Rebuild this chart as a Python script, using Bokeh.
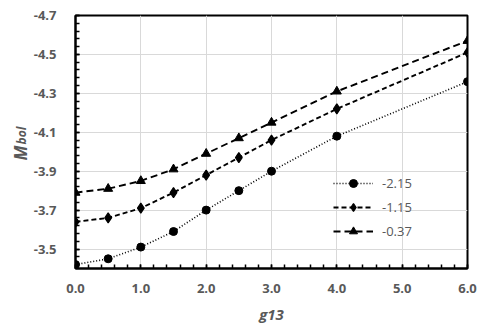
import numpy as np
from bokeh.plotting import figure
from bokeh.models import Range1d, FixedTicker, PrintfTickFormatter, Label, Legend
from bokeh.embed import file_html
from bokeh.resources import INLINE

# ---- data ----
g13 = [0, 0.5, 1.0, 1.5, 2.0, 2.5, 3.0, 4.0, 6.0]
mbol_m215 = [-3.42, -3.45, -3.51, -3.59, -3.70, -3.80, -3.90, -4.08, -4.36]
mbol_m115 = [-3.64, -3.66, -3.71, -3.79, -3.88, -3.97, -4.06, -4.22, -4.51]
mbol_m037 = [-3.79, -3.81, -3.85, -3.91, -3.99, -4.07, -4.15, -4.31, -4.57]
series_names = ["-2.15", "-1.15", "-0.37"]
x_ticks = [0, 1, 2, 3, 4, 5, 6]
y_ticks = [-3.5, -3.7, -3.9, -4.1, -4.3, -4.5, -4.7]

GRAY = "#595959"
FONT = "Open Sans"

p = figure(width=490, height=330, output_backend="svg", toolbar_location=None,
           x_range=Range1d(0, 6), y_range=Range1d(-3.4, -4.7))
p.min_border_left = 75
p.min_border_top = 15
p.min_border_right = 23
p.min_border_bottom = 62
p.outline_line_color = "black"
p.outline_line_width = 2

x_minor = list(np.round(np.arange(0, 6.0001, 0.2), 3))
y_minor = list(np.round(np.arange(-4.7, -3.3999, 0.04), 3))
p.xaxis.ticker = FixedTicker(ticks=x_ticks, minor_ticks=x_minor)
p.yaxis.ticker = FixedTicker(ticks=y_ticks, minor_ticks=y_minor)
p.xaxis.formatter = PrintfTickFormatter(format="%.1f")
p.yaxis.formatter = PrintfTickFormatter(format="%.1f")

for ax in (p.xaxis, p.yaxis):
    ax.axis_line_color = "black"
    ax.axis_line_width = 2
    ax.major_tick_in = 4
    ax.major_tick_out = 0
    ax.minor_tick_in = 4
    ax.minor_tick_out = 0
    ax.major_tick_line_color = "black"
    ax.minor_tick_line_color = "black"
    ax.major_tick_line_width = 1.5
    ax.minor_tick_line_width = 1.5
    ax.major_label_text_font = FONT
    ax.major_label_text_font_style = "bold"
    ax.major_label_text_font_size = "13px"
    ax.major_label_text_color = GRAY

p.yaxis.major_label_standoff = 19
p.xaxis.major_label_standoff = 15
p.xaxis.axis_label = "g13"
p.xaxis.axis_label_text_font = FONT
p.xaxis.axis_label_text_font_style = "bold italic"
p.xaxis.axis_label_text_font_size = "15px"
p.xaxis.axis_label_text_color = GRAY
p.xaxis.axis_label_standoff = 8

p.xgrid.ticker = FixedTicker(ticks=x_ticks)
p.ygrid.ticker = FixedTicker(ticks=y_ticks)
p.grid.grid_line_color = "#d9d9d9"
p.grid.grid_line_width = 1

r1l = p.line(g13, mbol_m215, line_color="black", line_width=1.6, line_dash="1 2")
r1s = p.scatter(g13, mbol_m215, marker="circle", size=8, fill_color="black", line_color="black")
r2l = p.line(g13, mbol_m115, line_color="black", line_width=1.9, line_dash="5 3")
r2s = p.scatter(g13, mbol_m115, marker="diamond", size=10, line_width=1.2,
                fill_color="black", line_color="black")
r3l = p.line(g13, mbol_m037, line_color="black", line_width=1.9, line_dash="7 4")
r3s = p.scatter(g13, mbol_m037, marker="triangle", size=9, fill_color="black", line_color="black")

legend = Legend(items=[(series_names[0], [r1l, r1s]),
                       (series_names[1], [r2l, r2s]),
                       (series_names[2], [r3l, r3s])],
                location=(258, 27))
legend.background_fill_alpha = 0
legend.border_line_color = None
legend.padding = 0
legend.margin = 0
legend.spacing = 4
legend.glyph_width = 40
legend.glyph_height = 20
legend.label_height = 20
legend.label_standoff = 9
legend.label_text_font = FONT
legend.label_text_font_size = "13px"
legend.label_text_color = GRAY
p.add_layout(legend)

# y axis label M_bol (rotated); "M" sits in the left panel, the subscript is
# hosted by the (roomy) right panel and shifted across to sit next to "M".
p.add_layout(Label(x=13, y=108, text="M", angle=np.pi / 2, x_units="screen", y_units="screen",
                   text_font=FONT, text_font_style="bold italic", text_font_size="17px",
                   text_color=GRAY, text_align="left", text_baseline="alphabetic"), "left")
p.add_layout(Label(x=-446, y=124, text="bol", angle=np.pi / 2, x_units="screen", y_units="screen",
                   text_font=FONT, text_font_style="bold italic", text_font_size="12px",
                   text_color=GRAY, text_align="left", text_baseline="alphabetic"), "right")

open("out.html", "w").write(file_html(p, INLINE))
